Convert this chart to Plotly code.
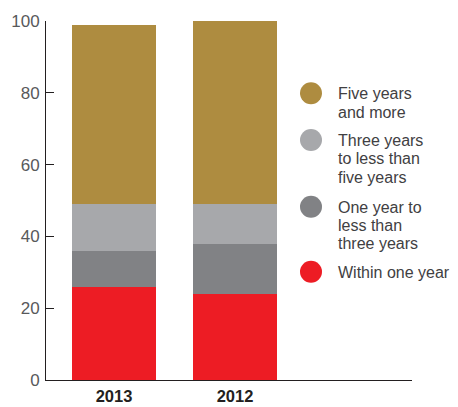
import plotly.graph_objects as go

years = ["2013", "2012"]
within_one_year = [26, 24]
one_to_three = [10, 14]
three_to_five = [13, 11]
five_and_more = [50, 51]

series_names = [
    "Within one year",
    "One year to<br>less than<br>three years",
    "Three years<br>to less than<br>five years",
    "Five years<br>and more",
]
series_values = [within_one_year, one_to_three, three_to_five, five_and_more]
colors = ["#ed1c24", "#818285", "#a7a8ab", "#ae8c40"]
y_ticks = [0, 20, 40, 60, 80, 100]

# the page body adds an 8px margin, so the figure is drawn 8px smaller
# and everything below is given in window pixels
OFF = 8
W, H = 458 - OFF, 407 - OFF
x_left, x_right, y_top, y_bottom = 46, 412, 21, 380
plot_w = x_right - x_left
plot_h = y_bottom - y_top


def px_x(x):
    return (x - x_left) / plot_w


def px_y(y):
    return (y_bottom - y) / plot_h


fig = go.Figure()
for name, vals, col in zip(series_names, series_values, colors):
    fig.add_trace(
        go.Bar(
            x=years,
            y=vals,
            name=name,
            marker=dict(color=col, line=dict(width=0)),
            width=0.694,
            showlegend=False,
        )
    )

# hand-made legend: circles + text, top item first
legend_rows = [93.3, 140, 206.7, 271.7]
line_pitch = 18.3
shapes = []
annotations = []
for name, col, cy in zip(series_names[::-1], colors[::-1], legend_rows):
    shapes.append(
        dict(
            type="circle",
            xref="paper",
            yref="paper",
            xsizemode="pixel",
            ysizemode="pixel",
            xanchor=px_x(311),
            yanchor=px_y(cy),
            x0=-11,
            x1=11,
            y0=-11,
            y1=11,
            fillcolor=col,
            line=dict(width=0),
        )
    )
    for i, line in enumerate(name.split("<br>")):
        annotations.append(
            dict(
                text=line,
                xref="paper",
                yref="paper",
                x=px_x(336),
                y=px_y(cy + i * line_pitch + 0.5),
                xanchor="left",
                yanchor="middle",
                showarrow=False,
                font=dict(family="Liberation Sans, Arial", size=16, color="#414042"),
            )
        )

fig.update_layout(
    barmode="stack",
    width=W,
    height=H,
    margin=dict(
        l=x_left - OFF, r=W - (x_right - OFF), t=y_top - OFF, b=H - (y_bottom - OFF), pad=0
    ),
    plot_bgcolor="white",
    paper_bgcolor="white",
    shapes=shapes,
    annotations=annotations,
    xaxis=dict(
        type="category",
        range=[-0.562, 2.463],
        automargin=False,
        showline=True,
        linecolor="#231f20",
        linewidth=1,
        showgrid=False,
        ticks="",
        tickfont=dict(family="Liberation Sans, Arial", size=16.5, color="#231f20", weight="bold"),
        ticklabelstandoff=1,
    ),
    yaxis=dict(
        range=[0, 100],
        tickvals=y_ticks,
        automargin=False,
        showline=True,
        linecolor="#231f20",
        linewidth=1,
        showgrid=False,
        zeroline=False,
        ticks="inside",
        ticklen=8,
        tickcolor="#231f20",
        tickwidth=1,
        tickfont=dict(family="Liberation Sans, Arial", size=17, color="#58595b"),
        ticklabelstandoff=2,
    ),
)

fig.write_html("out.html")
